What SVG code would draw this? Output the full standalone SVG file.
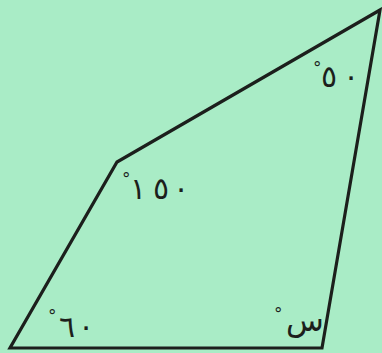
<svg xmlns="http://www.w3.org/2000/svg" width="382" height="353" viewBox="0 0 382 353">
<style>
.edge{fill:none;stroke:#1c1f1c;stroke-width:3.2;stroke-linejoin:miter}
.lbl{font-family:"DejaVu Sans","Noto Sans",sans-serif;font-size:30px;fill:#1c1f1c}
.deg{font-family:"DejaVu Sans",sans-serif;font-size:17px;fill:#1c1f1c}
</style>
<rect width="382" height="353" fill="#a9ecc6"/>
<g id="connectors">
<polygon class="edge" points="380,10 117,162 10,348 322,348"/>
</g>
<g id="angle-top"><text><tspan class="deg" x="313" y="74">°</tspan><tspan class="lbl" x="321 343" y="87">٥٠</tspan></text></g>
<g id="angle-mid"><text><tspan class="deg" x="122" y="185">°</tspan><tspan class="lbl" x="130 153 173" y="199">١٥٠</tspan></text></g>
<g id="angle-bl"><text><tspan class="deg" x="48" y="322">°</tspan><tspan class="lbl" x="59 78" y="337">٦٠</tspan></text></g>
<g id="angle-br"><text><tspan class="deg" x="274" y="320">°</tspan><tspan class="lbl" x="286" y="331" style="font-size:31px">س</tspan></text></g>
</svg>
